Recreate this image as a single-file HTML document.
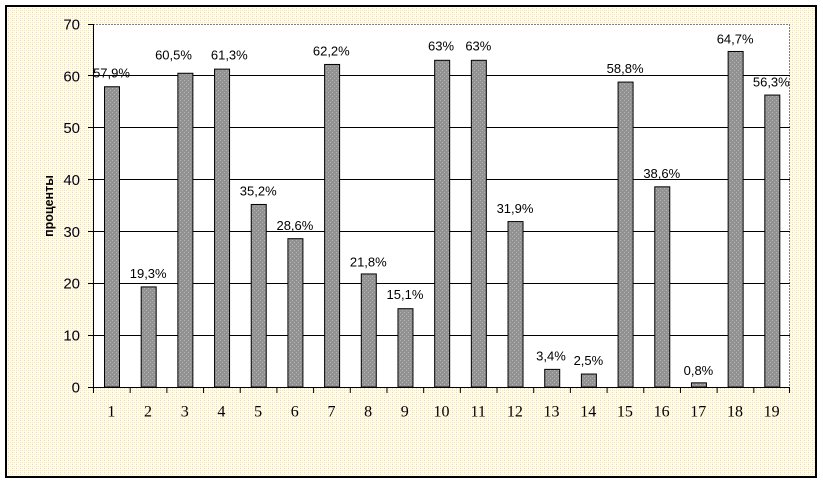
<!DOCTYPE html>
<html>
<head>
<meta charset="utf-8">
<style>
html,body{margin:0;padding:0;background:#fff;}
svg{display:block;}
</style>
</head>
<body>
<svg width="823" height="483" viewBox="0 0 823 483" xmlns="http://www.w3.org/2000/svg">
<defs>
<pattern id="bg" width="4" height="4" patternUnits="userSpaceOnUse">
<rect width="4" height="4" fill="#FFFEE8"/>
<rect x="0" y="0" width="1" height="1" fill="#F9CACA"/>
<rect x="2" y="2" width="1" height="1" fill="#FFE89A"/>
<rect x="2" y="0" width="1" height="1" fill="#FFF4D0"/>
<rect x="0" y="2" width="1" height="1" fill="#FBDAD0"/>
</pattern>
<pattern id="bar" width="4" height="4" patternUnits="userSpaceOnUse">
<rect width="4" height="4" fill="#929292"/>
<rect x="0" y="0" width="1" height="1" fill="#B4B4B4"/>
<rect x="2" y="2" width="1" height="1" fill="#B4B4B4"/>
</pattern>
</defs>
<rect x="0" y="0" width="823" height="483" fill="#fff"/>
<rect x="6" y="6" width="810" height="471" fill="url(#bg)" stroke="#000" stroke-width="2"/>
<!-- plot area -->
<rect x="93" y="24" width="697" height="363" fill="#fff"/>
<line x1="93" y1="24.5" x2="790" y2="24.5" stroke="#808080" stroke-width="1" stroke-dasharray="2,1"/>
<line x1="789.5" y1="24" x2="789.5" y2="387" stroke="#808080" stroke-width="1" stroke-dasharray="2,1"/>
<!-- gridlines -->
<g stroke="#000" stroke-width="1">
<line x1="88" y1="75.5" x2="790" y2="75.5"/>
<line x1="88" y1="127.5" x2="790" y2="127.5"/>
<line x1="88" y1="179.5" x2="790" y2="179.5"/>
<line x1="88" y1="231.5" x2="790" y2="231.5"/>
<line x1="88" y1="283.5" x2="790" y2="283.5"/>
<line x1="88" y1="335.5" x2="790" y2="335.5"/>
<line x1="88" y1="24.5" x2="93" y2="24.5"/>
</g>
<!-- bars -->
<g fill="url(#bar)" stroke="#000" stroke-width="1">
<rect x="104.5" y="86.75" width="15" height="300.25"/>
<rect x="141.18" y="286.92" width="15" height="100.08"/>
<rect x="177.87" y="73.26" width="15" height="313.74"/>
<rect x="214.55" y="69.12" width="15" height="317.88"/>
<rect x="251.24" y="204.46" width="15" height="182.54"/>
<rect x="287.92" y="238.69" width="15" height="148.31"/>
<rect x="324.6" y="64.45" width="15" height="322.55"/>
<rect x="361.29" y="273.95" width="15" height="113.05"/>
<rect x="397.97" y="308.7" width="15" height="78.3"/>
<rect x="434.66" y="60.3" width="15" height="326.7"/>
<rect x="471.34" y="60.3" width="15" height="326.7"/>
<rect x="508.02" y="221.58" width="15" height="165.42"/>
<rect x="544.71" y="369.37" width="15" height="17.63"/>
<rect x="581.39" y="374.04" width="15" height="12.96"/>
<rect x="618.08" y="82.08" width="15" height="304.92"/>
<rect x="654.76" y="186.83" width="15" height="200.17"/>
<rect x="691.44" y="382.85" width="15" height="4.15"/>
<rect x="728.13" y="51.48" width="15" height="335.52"/>
<rect x="764.81" y="95.05" width="15" height="291.95"/>
</g>
<!-- axes -->
<g stroke="#000" stroke-width="1">
<line x1="93.5" y1="24" x2="93.5" y2="388"/>
<line x1="88" y1="387.5" x2="790" y2="387.5"/>
<line x1="93.5" y1="387" x2="93.5" y2="393"/>
<line x1="130.18" y1="387" x2="130.18" y2="393"/>
<line x1="166.87" y1="387" x2="166.87" y2="393"/>
<line x1="203.55" y1="387" x2="203.55" y2="393"/>
<line x1="240.24" y1="387" x2="240.24" y2="393"/>
<line x1="276.92" y1="387" x2="276.92" y2="393"/>
<line x1="313.6" y1="387" x2="313.6" y2="393"/>
<line x1="350.29" y1="387" x2="350.29" y2="393"/>
<line x1="386.97" y1="387" x2="386.97" y2="393"/>
<line x1="423.66" y1="387" x2="423.66" y2="393"/>
<line x1="460.34" y1="387" x2="460.34" y2="393"/>
<line x1="497.02" y1="387" x2="497.02" y2="393"/>
<line x1="533.71" y1="387" x2="533.71" y2="393"/>
<line x1="570.39" y1="387" x2="570.39" y2="393"/>
<line x1="607.08" y1="387" x2="607.08" y2="393"/>
<line x1="643.76" y1="387" x2="643.76" y2="393"/>
<line x1="680.44" y1="387" x2="680.44" y2="393"/>
<line x1="717.13" y1="387" x2="717.13" y2="393"/>
<line x1="753.81" y1="387" x2="753.81" y2="393"/>
<line x1="789.5" y1="387" x2="789.5" y2="393"/>
</g>
<!-- y labels -->
<g font-family="'Liberation Sans', Arial, sans-serif" font-size="15" fill="#000014" text-anchor="end">
<text x="80" y="392.4">0</text>
<text x="80" y="340.5">10</text>
<text x="80" y="288.7">20</text>
<text x="80" y="236.8">30</text>
<text x="80" y="185">40</text>
<text x="80" y="133.1">50</text>
<text x="80" y="81.3">60</text>
<text x="80" y="29.4">70</text>
</g>
<text transform="translate(53,206) rotate(-90)" text-anchor="middle" font-family="'Liberation Sans', Arial, sans-serif" font-size="12.5" font-weight="bold" fill="#000">проценты</text>
<!-- x labels -->
<g font-family="'Liberation Serif', 'Times New Roman', serif" font-size="16" fill="#000" text-anchor="middle">
<text x="111.34" y="416.5">1</text>
<text x="148.02" y="416.5">2</text>
<text x="184.71" y="416.5">3</text>
<text x="221.39" y="416.5">4</text>
<text x="258.08" y="416.5">5</text>
<text x="294.76" y="416.5">6</text>
<text x="331.44" y="416.5">7</text>
<text x="368.13" y="416.5">8</text>
<text x="404.81" y="416.5">9</text>
<text x="441.5" y="416.5">10</text>
<text x="478.18" y="416.5">11</text>
<text x="514.86" y="416.5">12</text>
<text x="551.55" y="416.5">13</text>
<text x="588.23" y="416.5">14</text>
<text x="624.92" y="416.5">15</text>
<text x="661.6" y="416.5">16</text>
<text x="698.28" y="416.5">17</text>
<text x="734.97" y="416.5">18</text>
<text x="771.65" y="416.5">19</text>
</g>
<!-- data labels -->
<g font-family="'Liberation Sans', Arial, sans-serif" font-size="13" fill="#000" text-anchor="middle">
<text x="111.5" y="77.7">57,9%</text>
<text x="148.18" y="278.1">19,3%</text>
<text x="173.5" y="59.3">60,5%</text>
<text x="229.3" y="59.7">61,3%</text>
<text x="258.24" y="195.7">35,2%</text>
<text x="294.92" y="229.9">28,6%</text>
<text x="331.3" y="55.7">62,2%</text>
<text x="368.29" y="266.4">21,8%</text>
<text x="404.97" y="299">15,1%</text>
<text x="441" y="50.7">63%</text>
<text x="478.34" y="50.7">63%</text>
<text x="515.02" y="213">31,9%</text>
<text x="551" y="360.4">3,4%</text>
<text x="588.39" y="365">2,5%</text>
<text x="625.08" y="73">58,8%</text>
<text x="661.76" y="178">38,6%</text>
<text x="698.44" y="375">0,8%</text>
<text x="735.13" y="43.7">64,7%</text>
<text x="771.3" y="86.4">56,3%</text>
</g>
</svg>
</body>
</html>
